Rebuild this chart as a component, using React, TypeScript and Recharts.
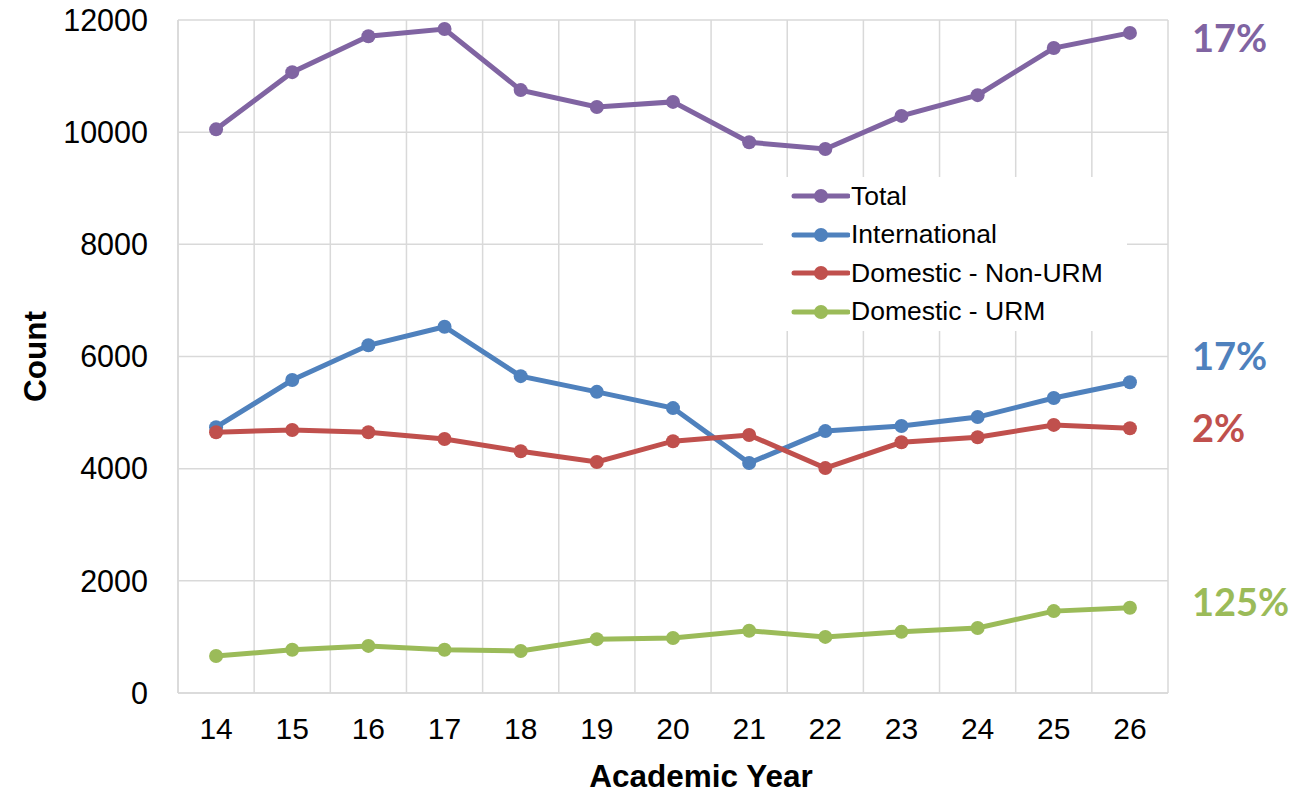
import { LineChart, Line, XAxis, YAxis, CartesianGrid, Legend, LabelList, Label } from 'recharts';

const years = [14, 15, 16, 17, 18, 19, 20, 21, 22, 23, 24, 25, 26];
const total = [10050, 11070, 11710, 11840, 10750, 10450, 10540, 9820, 9700, 10290, 10660, 11500, 11770];
const international = [4740, 5580, 6200, 6530, 5650, 5370, 5080, 4100, 4670, 4760, 4920, 5260, 5540];
const nonUrm = [4650, 4690, 4650, 4530, 4310, 4120, 4490, 4600, 4010, 4470, 4560, 4780, 4720];
const urm = [660, 770, 840, 770, 750, 960, 980, 1110, 1000, 1090, 1160, 1460, 1520];
const yTicks = [0, 2000, 4000, 6000, 8000, 10000, 12000];

const seriesNames = ['Total', 'International', 'Domestic - Non-URM', 'Domestic - URM'];
const seriesKeys = ['total', 'international', 'nonUrm', 'urm'];
const seriesColors = ['#8064A2', '#4F81BD', '#C0504D', '#9BBB59'];
const changeLabels = ['17%', '17%', '2%', '125%'];
const labelShift = [5, -26, 0, -5];

const data = years.map((year, i) => ({
  year,
  total: total[i],
  international: international[i],
  nonUrm: nonUrm[i],
  urm: urm[i],
}));

// boundaries between categories, for the vertical grid lines
const gridTicks = [...years.map(y => y - 0.5), years[years.length - 1] + 0.5];

const FONT = '"Liberation Sans", Arial, sans-serif';

function LegendBox({ payload }: any) {
  return (
    <div style={{ background: '#fff', width: 364, height: 154, fontFamily: FONT, fontSize: 26.5 }}>
      {(payload ?? []).map((entry: any) => (
        <div key={entry.value} style={{ height: 38.5, display: 'flex', alignItems: 'center' }}>
          <svg width={60} height={20} style={{ marginLeft: 27 }}>
            <line x1={4} y1={10} x2={58} y2={10} stroke={entry.color} strokeWidth={5} strokeLinecap="round" />
            <circle cx={31} cy={10} r={7} fill={entry.color} />
          </svg>
          <span style={{ marginLeft: 1, color: '#000' }}>{entry.value}</span>
        </div>
      ))}
    </div>
  );
}

export default function App() {
  const last = years.length - 1;
  return (
    <div style={{ position: 'absolute', left: 0, top: 0, background: '#fff' }}>
      <LineChart width={1294} height={795} data={data} margin={{ top: 20, right: 126, bottom: 0, left: 0 }}>
        <CartesianGrid xAxisId="grid" stroke="#D9D9D9" strokeWidth={1.5} />
        <XAxis xAxisId="grid" type="number" dataKey="year" domain={[gridTicks[0], gridTicks[gridTicks.length - 1]]} ticks={gridTicks} hide />
        <XAxis
          dataKey="year"
          type="number"
          domain={[gridTicks[0], gridTicks[gridTicks.length - 1]]}
          ticks={years}
          height={102}
          axisLine={{ stroke: '#D9D9D9', strokeWidth: 1.5 }}
          tickLine={false}
          tickSize={0}
          tickMargin={25}
          tick={{ fill: '#000', fontSize: 30, fontFamily: FONT }}
        >
          <Label
            content={({ viewBox }: any) => (
              <text x={viewBox.x + viewBox.width / 2 + 28} y={viewBox.y + 94} textAnchor="middle" fontFamily={FONT} fontSize={31.5} fontWeight="bold" fill="#000">
                Academic Year
              </text>
            )}
          />
        </XAxis>
        <YAxis
          width={178}
          domain={[0, 12000]}
          ticks={yTicks}
          axisLine={{ stroke: '#D9D9D9', strokeWidth: 1.5 }}
          tickLine={false}
          tickSize={0}
          tickMargin={30}
          tick={{ fill: '#000', fontSize: 30.5, fontFamily: FONT }}
        >
          <Label
            content={({ viewBox }: any) => {
              const cx = viewBox.x + 35;
              const cy = viewBox.y + viewBox.height / 2;
              return (
                <text x={cx} y={cy} dy="0.36em" transform={`rotate(-90, ${cx}, ${cy})`} textAnchor="middle" fontFamily={FONT} fontSize={31.5} fontWeight="bold" fill="#000">
                  Count
                </text>
              );
            }}
          />
        </YAxis>
        <Legend
          layout="vertical"
          align="center"
          verticalAlign="middle"
          itemSorter={(item: any) => seriesNames.indexOf(item.value)}
          content={<LegendBox />}
          wrapperStyle={{ position: 'absolute', left: 763, top: 177, width: 364 }}
        />
        {seriesKeys.map((key, s) => (
          <Line
            key={key}
            dataKey={key}
            name={seriesNames[s]}
            stroke={seriesColors[s]}
            strokeWidth={5}
            dot={{ r: 7, fill: seriesColors[s], stroke: 'none' }}
            activeDot={false}
            isAnimationActive={false}
          >
            <LabelList
              dataKey={key}
              content={(p: any) =>
                p.index === last ? (
                  <text x={p.x + 62} y={p.y + labelShift[s]} dy="0.36em" fontFamily="Lato, sans-serif" fontWeight="bold" fontSize={38} fill={seriesColors[s]}>
                    {changeLabels[s]}
                  </text>
                ) : null
              }
            />
          </Line>
        ))}
      </LineChart>
    </div>
  );
}
